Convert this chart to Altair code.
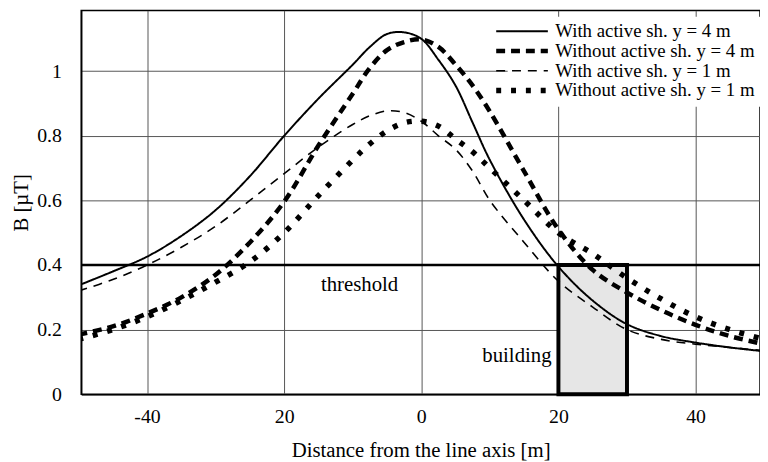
import altair as alt
import pandas as pd

# Distance from line axis [m]
x_pts = [-50, -45, -40, -35, -30, -25, -20, -15, -10, -7.5, -5, -2.5, 0, 2.5, 5, 7.5, 10, 15, 20, 25, 30, 35, 40, 45, 50]

with_y4 = [0.337, 0.38, 0.426, 0.49, 0.57, 0.675, 0.80, 0.915, 1.02, 1.075, 1.115, 1.12, 1.10, 1.035, 0.955, 0.84, 0.725, 0.54, 0.395, 0.29, 0.217, 0.18, 0.16, 0.145, 0.133]
without_y4 = [0.185, 0.21, 0.25, 0.30, 0.37, 0.47, 0.596, 0.77, 0.93, 1.01, 1.065, 1.09, 1.098, 1.075, 1.02, 0.955, 0.875, 0.69, 0.51, 0.385, 0.315, 0.26, 0.215, 0.18, 0.155]
with_y1 = [0.32, 0.355, 0.40, 0.455, 0.52, 0.60, 0.683, 0.765, 0.835, 0.862, 0.877, 0.872, 0.845, 0.80, 0.758, 0.69, 0.60, 0.47, 0.35, 0.27, 0.20, 0.17, 0.155, 0.145, 0.135]
without_y1 = [0.17, 0.20, 0.24, 0.29, 0.347, 0.41, 0.50, 0.615, 0.725, 0.775, 0.815, 0.84, 0.845, 0.83, 0.79, 0.75, 0.70, 0.60, 0.50, 0.435, 0.36, 0.295, 0.24, 0.2, 0.17]

series_names = [
    "With active sh. y = 4 m",
    "Without active sh. y = 4 m",
    "With active sh. y = 1 m",
    "Without active sh. y = 1 m",
]
series_values = [with_y4, without_y4, with_y1, without_y1]
series_widths = [2.0, 4.5, 1.6, 5.5]
series_dashes = [[1, 0], [9, 6], [9, 7], [5, 10]]

threshold_value = 0.4
building_x = [20, 30]

rows = []
for name, vals, w in zip(series_names, series_values, series_widths):
    for xv, yv in zip(x_pts, vals):
        rows.append({"x": xv, "B": yv, "series": name, "w": w})
df = pd.DataFrame(rows)

FONT = "Liberation Serif, Times New Roman, Times, serif"
xscale = alt.Scale(domain=[-49.6, 49.4], nice=False, zero=False)
yscale = alt.Scale(domain=[0, 1.188], nice=False, zero=False)

dash_scale = alt.Scale(domain=series_names, range=series_dashes)

width_sig = ("datum.value == '%s' ? %s : datum.value == '%s' ? %s : datum.value == '%s' ? %s : %s"
             % (series_names[1], series_widths[1], series_names[3], series_widths[3],
                series_names[2], series_widths[2], series_widths[0]))

legend = alt.Legend(title=None, symbolStrokeWidth=alt.ExprRef(expr=width_sig))

x_enc = alt.X("x:Q", scale=xscale,
              axis=alt.Axis(title="Distance from the line axis [m]", values=[-40, -20, 0, 20, 40],
                            labelExpr="datum.value == -20 ? '20' : (datum.value == -40 ? '-40' : datum.label)"))
y_enc = alt.Y("B:Q", scale=yscale,
              axis=alt.Axis(title="B [µT]", values=[0, 0.2, 0.4, 0.6, 0.8, 1.0], format="~g",
                            titleX=-54, titleY=194, titleBaseline="alphabetic", titleAngle=270))

lines = alt.Chart(df).mark_line(color="black", interpolate="catmull-rom", clip=True, strokeCap="butt").encode(
    x=x_enc, y=y_enc,
    strokeDash=alt.StrokeDash("series:N", scale=dash_scale, sort=series_names, legend=legend),
    strokeWidth=alt.StrokeWidth("w:Q", scale=None),
)

thr_df = pd.DataFrame({"y": [threshold_value]})
threshold = alt.Chart(thr_df).mark_rule(color="black", strokeWidth=2.5).encode(
    y=alt.Y("y:Q", scale=yscale)
)

bld_df = pd.DataFrame({"x": [building_x[0]], "x2": [building_x[1]], "y": [0], "y2": [threshold_value]})
building = alt.Chart(bld_df).mark_rect(fill="#e6e6e6", stroke="black", strokeWidth=4).encode(
    x=alt.X("x:Q", scale=xscale), x2="x2", y=alt.Y("y:Q", scale=yscale), y2="y2"
)

lab_df = pd.DataFrame({"x": [-9.0, 19.0], "y": [0.32, 0.10], "t": ["threshold", "building"]})
thr_text = alt.Chart(lab_df.iloc[[0]]).mark_text(font=FONT, fontSize=21, align="center", baseline="alphabetic",
                                                 color="black").encode(
    x=alt.X("x:Q", scale=xscale), y=alt.Y("y:Q", scale=yscale), text="t:N")
bld_text = alt.Chart(lab_df.iloc[[1]]).mark_text(font=FONT, fontSize=21, align="right", baseline="alphabetic",
                                                 color="black").encode(
    x=alt.X("x:Q", scale=xscale), y=alt.Y("y:Q", scale=yscale), text="t:N")

chart = alt.layer(building, threshold, lines, thr_text, bld_text).properties(
    width=686, height=388,
    autosize=alt.AutoSizeParams(type="none"),
    padding={"left": 74, "top": 0, "right": 0, "bottom": 66},
).configure_view(stroke="black", strokeWidth=1.5).configure_axis(
    labelFont=FONT, titleFont=FONT, labelFontSize=20, titleFontSize=21,
    labelColor="black", titleColor="black", titleFontWeight="normal",
    domainColor="black", domainWidth=1.5, gridColor="#555555", gridWidth=1,
    ticks=False,
).configure_axisX(labelPadding=12, titlePadding=14).configure_axisY(
    labelPadding=20
).configure_legend(
    orient="none", legendX=431, legendY=6.5, fillColor="white", padding=5,
    labelFont=FONT, labelFontSize=19, labelColor="black", symbolType="M-2.9,0L2.9,0",
    symbolStrokeColor="black", symbolSize=324, labelOffset=24, rowPadding=-2,
    labelLimit=400,
)

chart.save("out.html", embed_options={"renderer": "svg", "actions": False})
